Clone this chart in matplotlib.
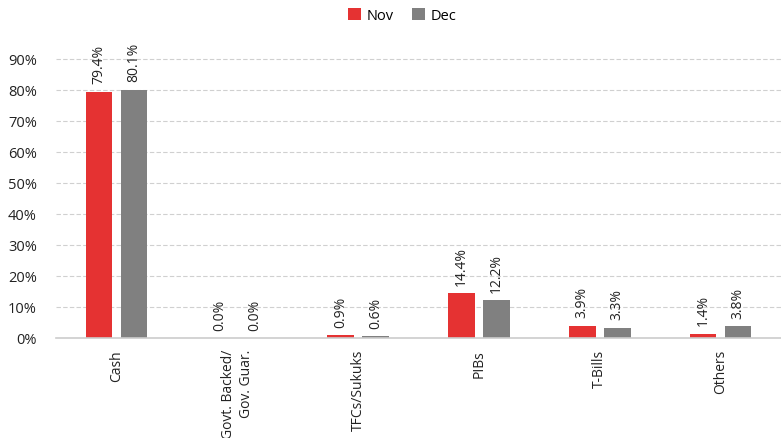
import numpy as np
from matplotlib import pyplot as plt

categories = ['Cash', 'Govt. Backed/\nGov. Guar.', 'TFCs/Sukuks', 'PIBs', 'T-Bills', 'Others']
nov = [79.4, 0.0, 0.9, 14.4, 3.9, 1.4]
dec = [80.1, 0.0, 0.6, 12.2, 3.3, 3.8]

plt.rcParams['font.family'] = ['Open Sans', 'DejaVu Sans']

fig = plt.figure(figsize=(7.81, 4.39), dpi=100)
ax = fig.add_axes([0.072, 0.228, 0.928, 0.685])

x = np.arange(len(categories))
w = 0.22
b1 = ax.bar(x - 0.145, np.array(nov) / 100, w, color='#E53232', label='Nov')
b2 = ax.bar(x + 0.145, np.array(dec) / 100, w, color='#808080', label='Dec')

for bars, vals in [(b1, nov), (b2, dec)]:
    for bar, v in zip(bars, vals):
        ax.annotate(f'{v:.1f}%', (bar.get_x() + bar.get_width() / 2, bar.get_height()),
                    xytext=(0, 6), textcoords='offset points', rotation=90,
                    ha='center', va='bottom', fontsize=10, color='#222222')

ax.set_xlim(-0.5, 5.5)
ax.set_ylim(0, 0.97)
ax.set_yticks(np.arange(0, 0.91, 0.1))
ax.set_yticklabels([f'{int(round(t * 100))}%' for t in np.arange(0, 0.91, 0.1)], fontsize=10.5)
ax.set_xticks(x)
ax.set_xticklabels(categories, rotation=90, fontsize=10, va='top', ha='center', multialignment='right')
ax.tick_params(axis='both', length=0, colors='#222222')
ax.tick_params(axis='y', pad=14)
ax.tick_params(axis='x', pad=8)

ax.grid(axis='y', linestyle='--', color='#d0d0d0', linewidth=0.8, dashes=(4, 2))
ax.set_axisbelow(True)
for s in ['top', 'right', 'left']:
    ax.spines[s].set_visible(False)
ax.spines['bottom'].set_color('#cccccc')
ax.spines['bottom'].set_linewidth(1.2)

fig.legend(handles=[b1, b2], loc='center', bbox_to_anchor=(0.515, 0.962), ncol=2, frameon=False,
           fontsize=10.5, handlelength=0.9, handleheight=0.9, handletextpad=0.4, columnspacing=1.2)

fig.savefig('out.png', dpi=100)
